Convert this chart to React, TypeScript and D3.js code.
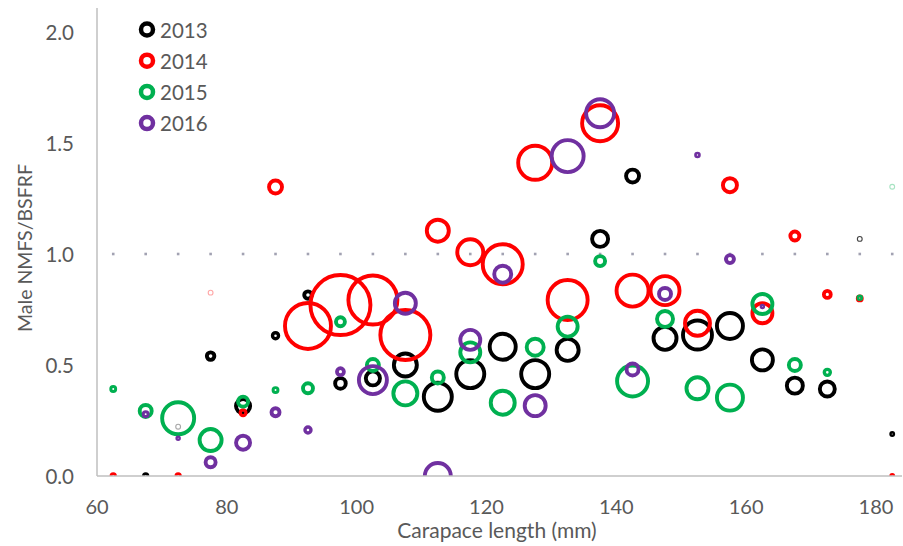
import React from 'react';
import * as d3 from 'd3';

// reference markers at ratio = 1 (one per 5 mm bin)
const refBins = [62.5, 67.5, 72.5, 77.5, 82.5, 87.5, 92.5, 97.5, 102.5, 107.5, 112.5, 117.5, 122.5,
  127.5, 132.5, 137.5, 142.5, 147.5, 152.5, 157.5, 162.5, 167.5, 172.5, 177.5, 182.5];
const refValue = 1.0;

const years = ['2013', '2014', '2015', '2016'];

const len2013 = [67.5, 72.5, 77.5, 82.5, 87.5, 92.5, 97.5, 102.5, 107.5, 112.5, 117.5, 122.5, 127.5, 132.5, 137.5, 142.5, 147.5, 152.5, 157.5, 162.5, 167.5, 172.5, 177.5, 182.5];
const ratio2013 = [0, 0.222, 0.54, 0.315, 0.632, 0.815, 0.417, 0.44, 0.5, 0.357, 0.459, 0.582, 0.459, 0.568, 1.068, 1.351, 0.62, 0.635, 0.676, 0.523, 0.407, 0.392, 1.068, 0.189];
const size2013 = [5, 6, 14, 50, 9, 14, 28, 50, 132, 196, 196, 169, 196, 121, 64, 42, 132, 210, 169, 110, 64, 56, 6, 3];

const len2014 = [62.5, 72.5, 77.5, 82.5, 87.5, 92.5, 97.5, 102.5, 107.5, 112.5, 117.5, 122.5, 127.5, 132.5, 137.5, 142.5, 147.5, 152.5, 157.5, 162.5, 167.5, 172.5, 177.5, 182.5];
const ratio2014 = [0, 0, 0.826, 0.285, 1.302, 0.676, 0.77, 0.793, 0.635, 1.105, 1.008, 0.954, 1.411, 0.793, 1.589, 0.835, 0.835, 0.688, 1.31, 0.733, 1.081, 0.818, 0.8, 0];
const size2014 = [5, 5, 5, 8, 42, 529, 900, 600, 625, 121, 169, 400, 289, 400, 324, 256, 210, 156, 49, 100, 20, 12, 6, 3];

const len2015 = [62.5, 67.5, 72.5, 77.5, 82.5, 87.5, 92.5, 97.5, 102.5, 107.5, 112.5, 117.5, 122.5, 127.5, 132.5, 137.5, 142.5, 147.5, 152.5, 157.5, 162.5, 167.5, 172.5, 177.5, 182.5];
const ratio2015 = [0.392, 0.293, 0.26, 0.162, 0.335, 0.387, 0.395, 0.695, 0.5, 0.372, 0.444, 0.557, 0.33, 0.58, 0.673, 0.968, 0.428, 0.707, 0.395, 0.353, 0.775, 0.5, 0.467, 0.803, 1.303];
const size2015 = [6, 36, 256, 121, 25, 6, 25, 20, 36, 144, 36, 100, 144, 72, 100, 25, 240, 64, 121, 169, 100, 36, 9, 4, 5];

const len2016 = [67.5, 72.5, 77.5, 82.5, 87.5, 92.5, 97.5, 102.5, 107.5, 112.5, 117.5, 122.5, 127.5, 132.5, 137.5, 142.5, 147.5, 152.5, 157.5, 162.5];
const ratio2016 = [0.278, 0.17, 0.062, 0.15, 0.287, 0.207, 0.47, 0.432, 0.778, 0, 0.613, 0.909, 0.317, 1.441, 1.634, 0.48, 0.82, 1.446, 0.977, 0.763];
const size2016 = [6, 2, 25, 49, 16, 9, 12, 196, 110, 169, 100, 72, 110, 256, 196, 36, 36, 4, 16, 2];

const xTicks = [60, 80, 100, 120, 140, 160, 180];
const yTicks = [0, 0.5, 1.0, 1.5, 2.0];

// points rendered with a thin, washed-out outline in the original
const faintPoints = ['2013:72.5', '2013:177.5', '2014:77.5', '2015:182.5'];

const colors: Record<string, string> = { '2013': '#000000', '2014': '#FF0000', '2015': '#00B050', '2016': '#7030A0' };

const seriesData = [
  { year: '2013', len: len2013, ratio: ratio2013, size: size2013 },
  { year: '2014', len: len2014, ratio: ratio2014, size: size2014 },
  { year: '2015', len: len2015, ratio: ratio2015, size: size2015 },
  { year: '2016', len: len2016, ratio: ratio2016, size: size2016 },
];

const W = 903, H = 546;
const PL = 97, PR = 902, PT = 8, PB = 476;
const FONT = 'Lato, "Open Sans", sans-serif';
const TXT = '#595959';

export default function App() {
  const x = d3.scaleLinear().domain([60, 180]).range([PL, 876]);
  const y = d3.scaleLinear().domain([0, 2]).range([PB, 32]);
  const r = d3.scaleSqrt().domain([0, 900]).range([0, 30]);

  const fmt = d3.format('.1f');

  return (
    <svg width={W} height={H} style={{ position: 'absolute', left: 0, top: 0, background: '#fff' }}
      fontFamily={FONT}>
      <defs>
        <clipPath id="plotClip">
          <rect x={PL} y={0} width={W - PL} height={PB} />
        </clipPath>
      </defs>

      {/* reference dots at 1.0 */}
      <g>
        {refBins.map((b, i) => (
          <rect key={i} x={x(b) - 1.3} y={y(refValue) - 1.3} width={2.6} height={2.6} fill="#a2a2b2" />
        ))}
      </g>

      {/* bubbles */}
      <g clipPath="url(#plotClip)">
        {seriesData.map((s) => (
          <g key={s.year}>
            {s.len.map((L, i) => {
              const faint = faintPoints.includes(`${s.year}:${L}`);
              const rr = faint ? 2.4 : Math.max(1.6, r(s.size[i]));
              const sw = faint ? 1.1 : Math.min(3.9, 1 + rr * 0.8);
              return (
                <circle key={i} cx={x(L)} cy={y(s.ratio[i])} r={rr} fill="none"
                  stroke={colors[s.year]} strokeWidth={sw} strokeOpacity={faint ? (s.year === '2013' && L > 170 ? 0.75 : 0.35) : 1} />
              );
            })}
          </g>
        ))}
      </g>

      {/* axes */}
      <line x1={PL} x2={PL} y1={PT} y2={PB} stroke="#bfbfbf" strokeWidth={1.5} />
      <line x1={PL} x2={PR} y1={PB} y2={PB} stroke="#bfbfbf" strokeWidth={1.5} />

      {yTicks.map((t) => (
        <text key={t} x={74} y={y(t)} textAnchor="end" dominantBaseline="central" fontSize={20.5} fill={TXT}>
          {fmt(t)}
        </text>
      ))}
      {xTicks.map((t) => (
        <text key={t} x={x(t)} y={514} textAnchor="middle" fontSize={20} fill={TXT}>
          {t}
        </text>
      ))}

      <text x={497} y={538} textAnchor="middle" fontSize={21} fill={TXT}>
        Carapace length (mm)
      </text>
      <text transform="translate(24,248) rotate(-90)" textAnchor="middle" dominantBaseline="central" fontSize={19.5} fill={TXT}>
        Male NMFS/BSFRF
      </text>

      {/* legend */}
      {years.map((yr, i) => (
        <g key={yr}>
          <circle cx={147} cy={29.5 + i * 31.2} r={6} fill="none" stroke={colors[yr]} strokeWidth={4.5} />
          <text x={160} y={29.5 + i * 31.2} dominantBaseline="central" fontSize={20.5} fill={TXT}>{yr}</text>
        </g>
      ))}
    </svg>
  );
}
